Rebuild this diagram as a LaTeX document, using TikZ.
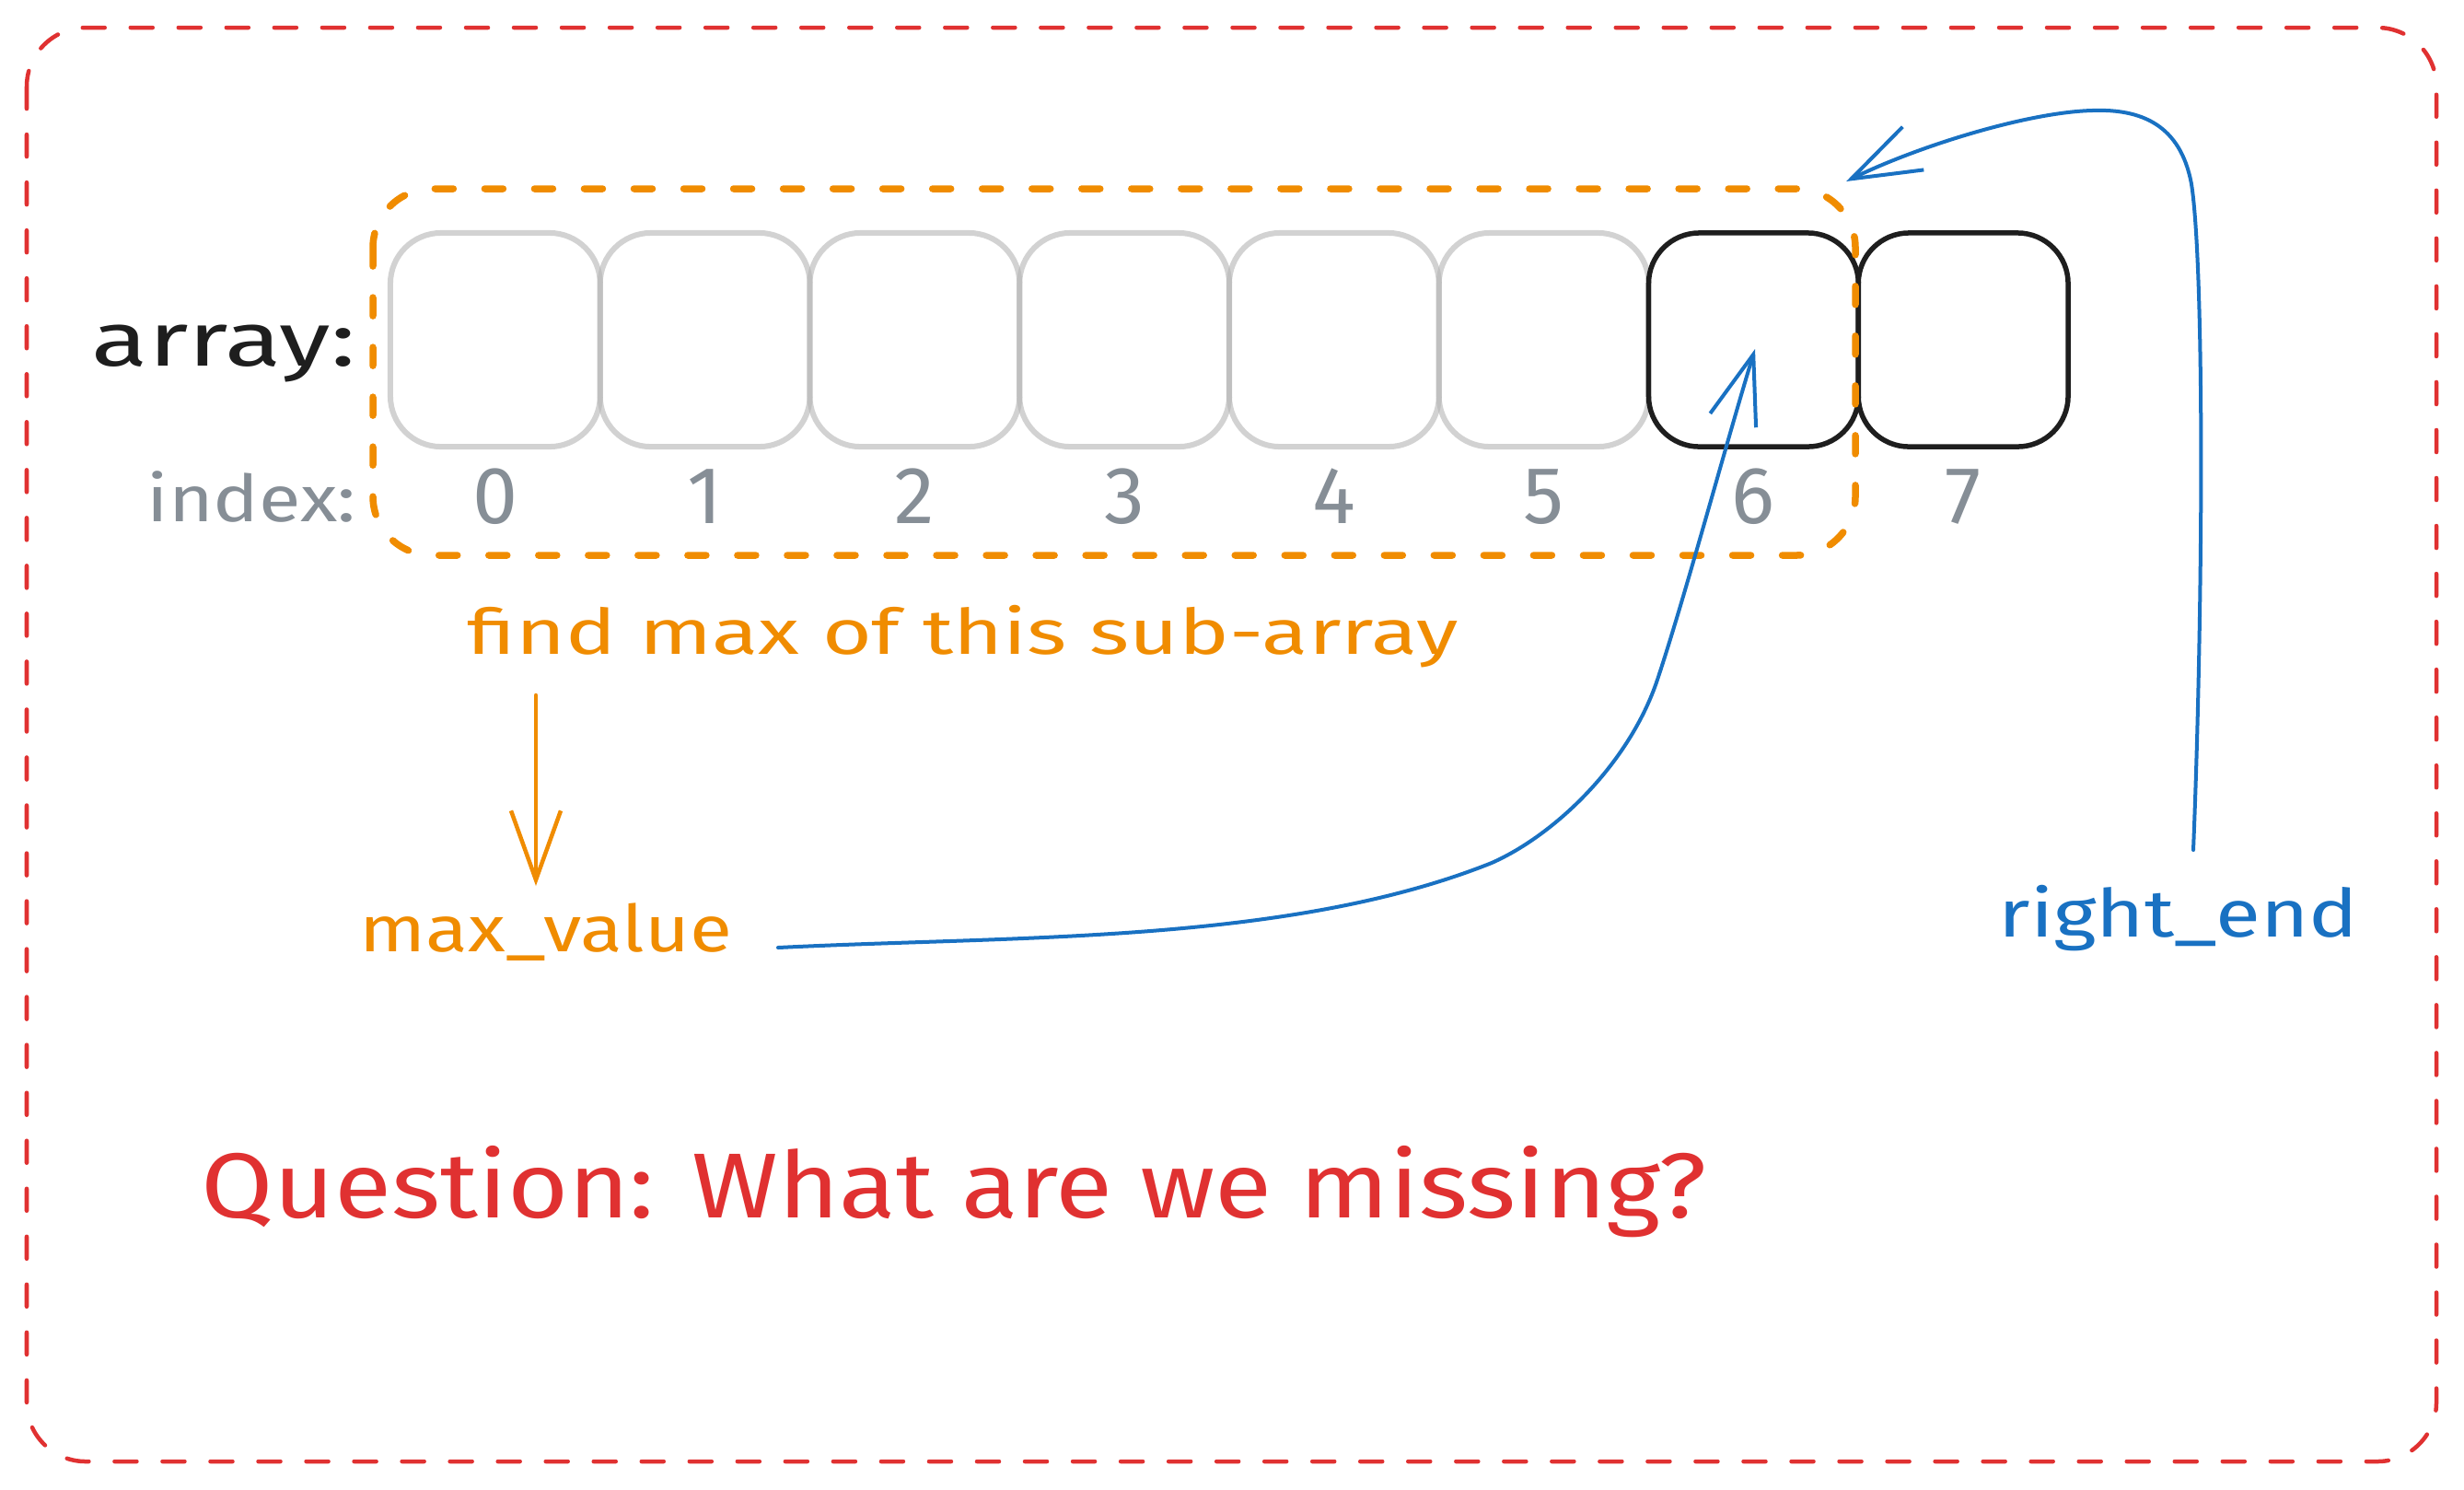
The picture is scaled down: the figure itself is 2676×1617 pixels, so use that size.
\documentclass[tikz,border=0pt]{standalone}
\usepackage{fontspec}
\setmainfont{Fira Sans}
\usepackage{graphicx}
\usetikzlibrary{arrows.meta}
\definecolor{exred}{HTML}{E03131}
\definecolor{exorange}{HTML}{F08C00}
\definecolor{exblue}{HTML}{1971C2}
\definecolor{exblack}{HTML}{1E1E1E}
\definecolor{exgray}{HTML}{868E96}
\definecolor{cellgray}{HTML}{B4B4B4}
\begin{document}
\begin{tikzpicture}[x=0.01cm, y=-0.01cm,
  frame/.style={draw=exred, line width=0.045cm, dash pattern=on 0.24cm off 0.28cm, line cap=round, rounded corners=0.64cm},
  subbox/.style={draw=exorange, line width=0.075cm, dash pattern=on 0.2cm off 0.34cm, line cap=round, rounded corners=0.64cm},
  cellbox/.style={minimum width=2.2775cm, minimum height=2.32cm, inner sep=0, rounded corners=0.55cm},
  graycell/.style={cellbox, draw=cellgray, draw opacity=0.6, line width=0.06cm},
  blackcell/.style={cellbox, draw=exblack, line width=0.055cm},
  idx/.style={anchor=base, inner sep=0, text=exgray, font=\fontsize{25pt}{30pt}\selectfont},
  lbl/.style={anchor=base west, inner sep=0},
  blueconn/.style={draw=exblue, line width=0.04cm, line cap=round, line join=round, -{Straight Barb[length=0.75cm, width=0.52cm]}},
  orangeconn/.style={draw=exorange, line width=0.045cm, line cap=round, -{Straight Barb[length=0.75cm, width=0.54cm]}},
]
\useasboundingbox (0,0) rectangle (2676,1617);
\fill[white] (0,0) rectangle (2676,1617);

% outer frame
\draw[frame] (29,30) rectangle (2646,1587);

% cells
\foreach \i in {0,...,5} {
  \node[graycell] (c\i) at ({424+227.75*(\i+0.5)},369) {};
}
\node[blackcell] (c6) at ({424+227.75*6.5},369) {};
\node[blackcell] (c7) at ({424+227.75*7.5},369) {};

% indices
\foreach \i in {0,...,7} {
  \node[idx] (n\i) at ({424+227.75*(\i+0.5)},568) {\i};
}

% sub-array box
\draw[subbox] (405,205) rectangle (2015,603);

% labels
\node[lbl, text=exblack, font=\fontsize{23.5pt}{28pt}\selectfont] (arr) at (99,397) {\resizebox{2.87cm}{\height}{array:}};
\node[lbl, text=exgray, font=\fontsize{20pt}{24pt}\selectfont] (idxl) at (159,566) {\resizebox{2.27cm}{\height}{index:}};
\node[lbl, text=exorange, font=\fontsize{19.4pt}{23pt}\selectfont] (find) at (507,710) {\resizebox{10.75cm}{\height}{find max of this sub-array}};
\node[lbl, text=exorange, font=\fontsize{20pt}{24pt}\selectfont] (maxv) at (390,1033) {\resizebox{4.04cm}{\height}{max\_value}};
\node[lbl, text=exblue, font=\fontsize{20.5pt}{24pt}\selectfont] (rend) at (2170,1017) {\resizebox{3.90cm}{\height}{right\_end}};
\node[lbl, text=exred, font=\fontsize{28.5pt}{34pt}\selectfont] (q) at (218,1322) {\resizebox{16.34cm}{\height}{Question: What are we missing?}};

% connectors
\coordinate (fa) at (582,755);
\coordinate (fb) at (582,962);
\draw[orangeconn] (fa) -- (fb);

\coordinate (m1) at (845,1029);
\coordinate (t1) at (1906,379);
\draw[blueconn] (m1) .. controls (1105,1016) and (1400,1025) .. (1620,937)
  .. controls (1690,906) and (1770,828) .. (1800,738)
  .. controls (1830,648) and (1875,480) .. (t1);

\coordinate (r1) at (2382,923);
\coordinate (t2) at (2005,197);
\draw[blueconn] (r1) .. controls (2393,650) and (2394,290) .. (2380,200)
  .. controls (2368,135) and (2325,118) .. (2272,120)
  .. controls (2200,122) and (2080,160) .. (t2);
\end{tikzpicture}
\end{document}
